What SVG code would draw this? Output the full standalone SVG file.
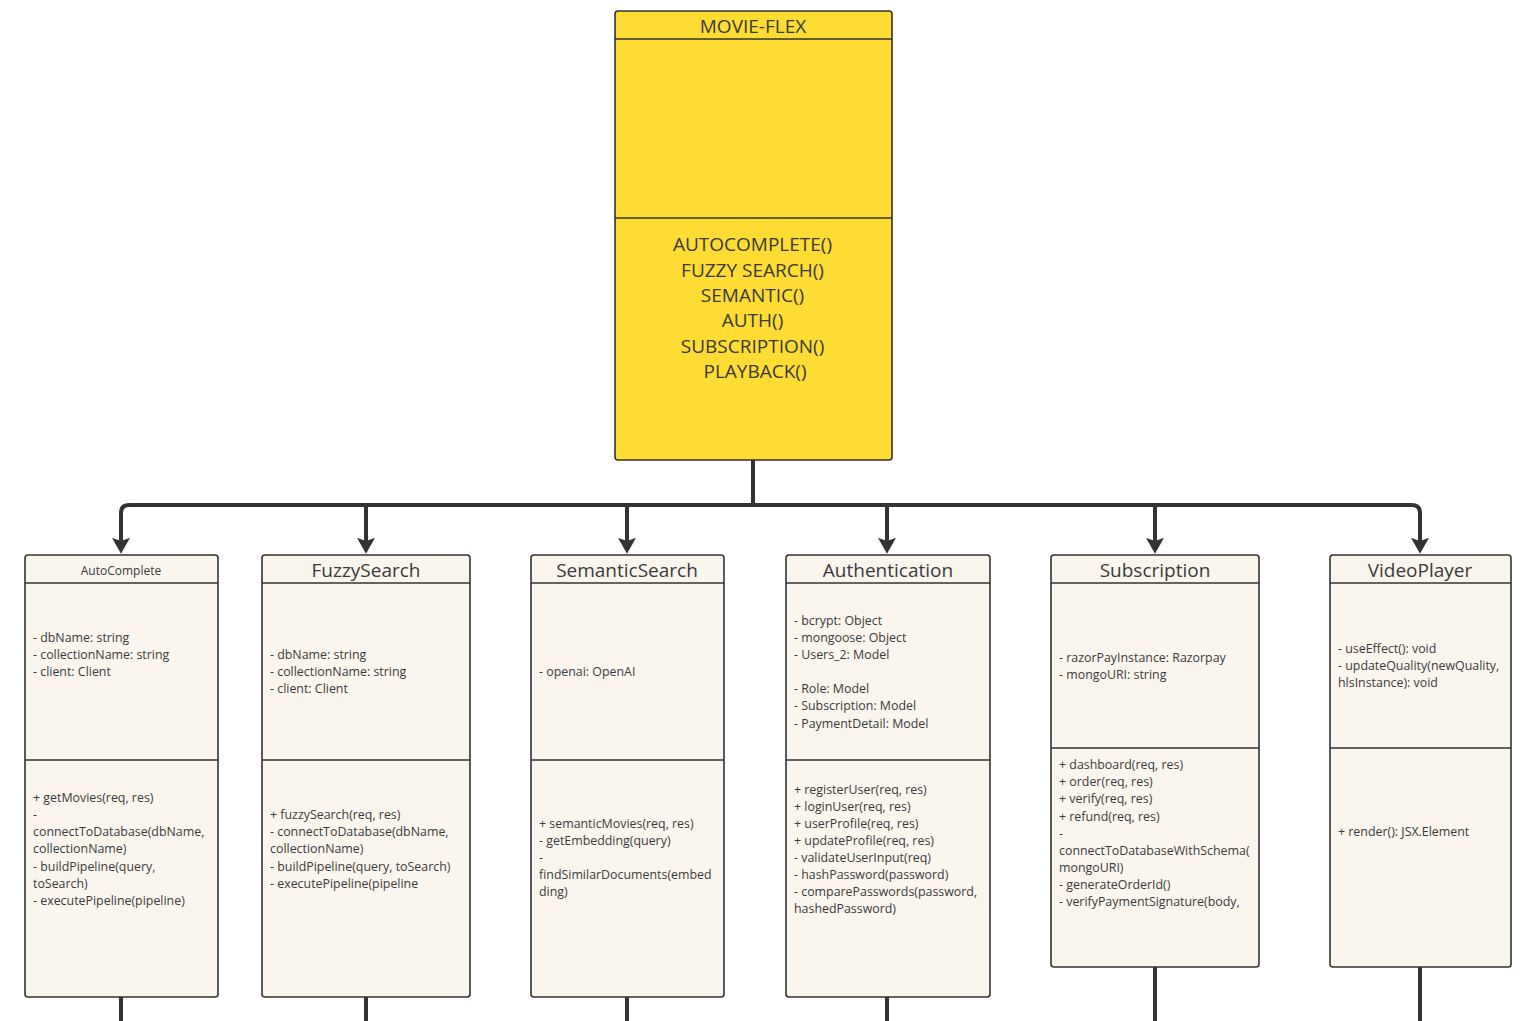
<svg xmlns="http://www.w3.org/2000/svg" width="1530" height="1021" viewBox="0 0 1530 1021">
<defs>
<style>
text{font-family:"Open Sans","Noto Sans","Liberation Sans",sans-serif;fill:#3a3a3a}
.box{fill:#FAF6EE;stroke:#333;stroke-width:1.6}
.div{stroke:#333;stroke-width:1.6}
.t{font-size:19px;text-anchor:middle}
.s{font-size:12.4px}
.c{fill:none;stroke:#333;stroke-width:4;stroke-linejoin:round}
</style>
<marker id="arr" markerWidth="18" markerHeight="16" refX="8.5" refY="3" orient="0" markerUnits="userSpaceOnUse" viewBox="0 0 17 15">
<path d="M0,0 L8.5,3 L17,0 L8.5,15 Z" fill="#333"/>
</marker>
</defs>
<rect width="1530" height="1021" fill="#fff"/>
<g id="connectors">
<path class="c" d="M753,460 V505"/>
<path class="c" d="M753,505 H129 Q121,505 121,513 V541" marker-end="url(#arr)"/>
<path class="c" d="M753,505 H1412 Q1420,505 1420,513 V541" marker-end="url(#arr)"/>
<path class="c" d="M366,505 V541" marker-end="url(#arr)"/>
<path class="c" d="M627,505 V541" marker-end="url(#arr)"/>
<path class="c" d="M887,505 V541" marker-end="url(#arr)"/>
<path class="c" d="M1155,505 V541" marker-end="url(#arr)"/>
<path class="c" d="M121,997 V1021 M366,997 V1021 M627,997 V1021 M887,997 V1021 M1155,967 V1021 M1420,967 V1021"/>
</g>
<g id="movieflex">
<rect x="615" y="11" width="277" height="449" rx="3" fill="#FEDC33" stroke="#333" stroke-width="1.6"/>
<line class="div" x1="615" y1="39" x2="892" y2="39"/>
<line class="div" x1="615" y1="218" x2="892" y2="218"/>
<text class="t" x="753" y="33">MOVIE-FLEX</text>
<text class="t" font-size="17.5">
<tspan x="755" y="251">AUTOCOMPLETE()</tspan>
<tspan x="755" y="277">FUZZY SEARCH()</tspan>
<tspan x="755" y="302">SEMANTIC()</tspan>
<tspan x="755" y="327">AUTH()</tspan>
<tspan x="755" y="353">SUBSCRIPTION()</tspan>
<tspan x="755" y="378">PLAYBACK()</tspan>
</text>
</g>
<g id="autocomplete">
<rect class="box" x="25" y="555" width="193" height="442" rx="3"/>
<line class="div" x1="25" y1="583" x2="218" y2="583"/>
<line class="div" x1="25" y1="760" x2="218" y2="760"/>
<text x="121" y="575" font-size="12" text-anchor="middle">AutoComplete</text>
<text class="s"><tspan x="33" y="642">- dbName: string</tspan><tspan x="33" y="659">- collectionName: string</tspan><tspan x="33" y="676">- client: Client</tspan></text>
<text class="s"><tspan x="33" y="802">+ getMovies(req, res)</tspan><tspan x="33" y="819">-</tspan><tspan x="33" y="836">connectToDatabase(dbName,</tspan><tspan x="33" y="853">collectionName)</tspan><tspan x="33" y="871">- buildPipeline(query,</tspan><tspan x="33" y="888">toSearch)</tspan><tspan x="33" y="905">- executePipeline(pipeline)</tspan></text>
</g>
<g id="fuzzysearch">
<rect class="box" x="262" y="555" width="208" height="442" rx="3"/>
<line class="div" x1="262" y1="583" x2="470" y2="583"/>
<line class="div" x1="262" y1="760" x2="470" y2="760"/>
<text class="t" x="366" y="577">FuzzySearch</text>
<text class="s"><tspan x="270" y="659">- dbName: string</tspan><tspan x="270" y="676">- collectionName: string</tspan><tspan x="270" y="693">- client: Client</tspan></text>
<text class="s"><tspan x="270" y="819">+ fuzzySearch(req, res)</tspan><tspan x="270" y="836">- connectToDatabase(dbName,</tspan><tspan x="270" y="853">collectionName)</tspan><tspan x="270" y="871">- buildPipeline(query, toSearch)</tspan><tspan x="270" y="888">- executePipeline(pipeline</tspan></text>
</g>
<g id="semanticsearch">
<rect class="box" x="531" y="555" width="193" height="442" rx="3"/>
<line class="div" x1="531" y1="583" x2="724" y2="583"/>
<line class="div" x1="531" y1="760" x2="724" y2="760"/>
<text class="t" x="627" y="577">SemanticSearch</text>
<text class="s"><tspan x="539" y="676">- openai: OpenAI</tspan></text>
<text class="s"><tspan x="539" y="828">+ semanticMovies(req, res)</tspan><tspan x="539" y="845">- getEmbedding(query)</tspan><tspan x="539" y="862">-</tspan><tspan x="539" y="879">findSimilarDocuments(embed</tspan><tspan x="539" y="896">ding)</tspan></text>
</g>
<g id="authentication">
<rect class="box" x="786" y="555" width="204" height="442" rx="3"/>
<line class="div" x1="786" y1="583" x2="990" y2="583"/>
<line class="div" x1="786" y1="760" x2="990" y2="760"/>
<text class="t" x="888" y="577">Authentication</text>
<text class="s"><tspan x="794" y="625">- bcrypt: Object</tspan><tspan x="794" y="642">- mongoose: Object</tspan><tspan x="794" y="659">- Users_2: Model</tspan><tspan x="794" y="693">- Role: Model</tspan><tspan x="794" y="710">- Subscription: Model</tspan><tspan x="794" y="728">- PaymentDetail: Model</tspan></text>
<text class="s"><tspan x="794" y="794">+ registerUser(req, res)</tspan><tspan x="794" y="811">+ loginUser(req, res)</tspan><tspan x="794" y="828">+ userProfile(req, res)</tspan><tspan x="794" y="845">+ updateProfile(req, res)</tspan><tspan x="794" y="862">- validateUserInput(req)</tspan><tspan x="794" y="879">- hashPassword(password)</tspan><tspan x="794" y="896">- comparePasswords(password,</tspan><tspan x="794" y="913">hashedPassword)</tspan></text>
</g>
<g id="subscription">
<rect class="box" x="1051" y="555" width="208" height="412" rx="3"/>
<line class="div" x1="1051" y1="583" x2="1259" y2="583"/>
<line class="div" x1="1051" y1="748" x2="1259" y2="748"/>
<text class="t" x="1155" y="577">Subscription</text>
<text class="s"><tspan x="1059" y="662">- razorPayInstance: Razorpay</tspan><tspan x="1059" y="679">- mongoURI: string</tspan></text>
<text class="s"><tspan x="1059" y="769">+ dashboard(req, res)</tspan><tspan x="1059" y="786">+ order(req, res)</tspan><tspan x="1059" y="803">+ verify(req, res)</tspan><tspan x="1059" y="821">+ refund(req, res)</tspan><tspan x="1059" y="838">-</tspan><tspan x="1059" y="855">connectToDatabaseWithSchema(</tspan><tspan x="1059" y="872">mongoURI)</tspan><tspan x="1059" y="889">- generateOrderId()</tspan><tspan x="1059" y="906">- verifyPaymentSignature(body,</tspan></text>
</g>
<g id="videoplayer">
<rect class="box" x="1330" y="555" width="181" height="412" rx="3"/>
<line class="div" x1="1330" y1="583" x2="1511" y2="583"/>
<line class="div" x1="1330" y1="748" x2="1511" y2="748"/>
<text class="t" x="1420" y="577">VideoPlayer</text>
<text class="s"><tspan x="1338" y="653">- useEffect(): void</tspan><tspan x="1338" y="670">- updateQuality(newQuality,</tspan><tspan x="1338" y="687">hlsInstance): void</tspan></text>
<text class="s"><tspan x="1338" y="836">+ render(): JSX.Element</tspan></text>
</g>
</svg>
